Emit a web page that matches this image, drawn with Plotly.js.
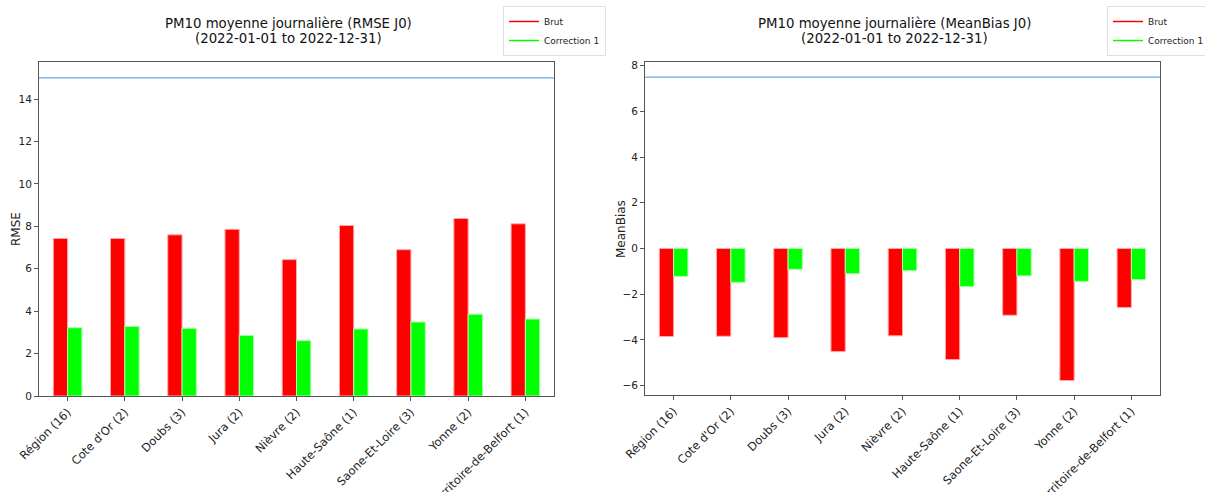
<!DOCTYPE html>
<html>
<head>
<meta charset="utf-8">
<script src="https://cdn.plot.ly/plotly-3.0.1.min.js"></script>
<style>html,body{margin:0;padding:0;background:#fff;}#chart{width:1205px;height:492px;}</style>
</head>
<body>
<div id="chart"></div>
<script>
const categories = ["Région (16)", "Cote d'Or (2)", "Doubs (3)", "Jura (2)", "Nièvre (2)", "Haute-Saône (1)", "Saone-Et-Loire (3)", "Yonne (2)", "Territoire-de-Belfort (1)"];
const rmseBrut = [7.43, 7.43, 7.60, 7.86, 6.43, 8.04, 6.90, 8.37, 8.12];
const rmseCorr = [3.22, 3.28, 3.19, 2.86, 2.61, 3.16, 3.49, 3.86, 3.63];
const biasBrut = [-3.85, -3.84, -3.90, -4.51, -3.82, -4.86, -2.92, -5.78, -2.58];
const biasCorr = [-1.22, -1.48, -0.91, -1.10, -0.97, -1.67, -1.20, -1.44, -1.36];
const rmseThreshold = 15;
const biasThreshold = 7.5;
const seriesNames = ["Brut", "Correction 1"];
const titleLine1 = ["PM10 moyenne journalière (RMSE J0)", "PM10 moyenne journalière (MeanBias J0)"];
const titleLine2 = ["(2022-01-01 to 2022-12-31)", "(2022-01-01 to 2022-12-31)"];
const yTitles = ["RMSE", "MeanBias"];

const RED = "#ff0000", GREEN = "#00ff00";
const FONT = "DejaVu Sans, sans-serif";

function bar(y, color, edge, xa, ya, name) {
  return {type: "bar", x: categories, y: y, xaxis: xa, yaxis: ya, name: name, showlegend: false,
    marker: {color: color, line: {color: edge, width: 1}}, hoverinfo: "skip"};
}
function legendLine(name, color, legend) {
  return {type: "scatter", mode: "lines", x: [null], y: [null], name: name, legend: legend,
    line: {color: color, width: 1.5}, xaxis: "x", yaxis: "y"};
}

const data = [
  bar(rmseBrut, RED, "rgba(255,170,170,1)", "x", "y", seriesNames[0]),
  bar(rmseCorr, GREEN, "rgba(170,255,170,1)", "x", "y", seriesNames[1]),
  bar(biasBrut, RED, "rgba(255,170,170,1)", "x2", "y2", seriesNames[0]),
  bar(biasCorr, GREEN, "rgba(170,255,170,1)", "x2", "y2", seriesNames[1]),
  legendLine(seriesNames[0], RED, "legend"),
  legendLine(seriesNames[1], GREEN, "legend"),
  legendLine(seriesNames[0], RED, "legend2"),
  legendLine(seriesNames[1], GREEN, "legend2")
];

const W = 1205, H = 492;
const px = v => v / W, py = v => 1 - v / H;

const xCommon = {
  type: "category", categoryorder: "array", categoryarray: categories, range: [-0.5, 8.5],
  showline: true, mirror: true, linecolor: "#555", linewidth: 1, automargin: false,
  ticks: "outside", ticklen: 4, tickcolor: "#555", tickangle: -45,
  tickfont: {family: FONT, size: 11.5, color: "#222"}, showgrid: false, zeroline: false, fixedrange: true
};
const yCommon = {
  showline: true, mirror: true, linecolor: "#555", linewidth: 1, automargin: false,
  ticks: "outside", ticklen: 4, tickcolor: "#555", dtick: 2,
  tickfont: {family: FONT, size: 10.5, color: "#222"}, showgrid: false, zeroline: false, fixedrange: true
};

const legendCommon = {
  bgcolor: "rgba(255,255,255,0.85)", bordercolor: "#e0e0e0", borderwidth: 1,
  font: {family: FONT, size: 9, color: "#222"}, xanchor: "left", yanchor: "top",
  tracegroupgap: 0, itemwidth: 30
};

const txt = (text, x, y, size, extra) => Object.assign({text: text, xref: "paper", yref: "paper", x: x, y: y,
  xanchor: "center", yanchor: "middle", showarrow: false, font: {family: FONT, size: size, color: "#111"}}, extra || {});

const layout = {
  width: W, height: H, margin: {l: 0, r: 0, t: 0, b: 0, autoexpand: false},
  paper_bgcolor: "#fff", plot_bgcolor: "#fff",
  barmode: "group", bargap: 0.5, bargroupgap: 0,
  xaxis: Object.assign({}, xCommon, {domain: [px(39), px(554)], anchor: "y"}),
  yaxis: Object.assign({}, yCommon, {domain: [py(396), py(62)], anchor: "x", range: [0, 15.75]}),
  xaxis2: Object.assign({}, xCommon, {domain: [px(645), px(1160)], anchor: "y2"}),
  yaxis2: Object.assign({}, yCommon, {domain: [py(395), py(62)], anchor: "x2", range: [-6.41, 8.16]}),
  legend: Object.assign({}, legendCommon, {x: px(503), y: py(6)}),
  legend2: Object.assign({}, legendCommon, {x: px(1107), y: py(6)}),
  shapes: [
    {type: "line", xref: "x domain", yref: "y", x0: 0, x1: 1, y0: rmseThreshold, y1: rmseThreshold,
      line: {color: "#6fa8dc", width: 1.3}},
    {type: "line", xref: "x2 domain", yref: "y2", x0: 0, x1: 1, y0: biasThreshold, y1: biasThreshold,
      line: {color: "#6fa8dc", width: 1.3}}
  ],
  annotations: [
    txt(titleLine1[0], px(288), py(23), 13.3),
    txt(titleLine2[0], px(288), py(39), 13.3),
    txt(titleLine1[1], px(894), py(23), 13.3),
    txt(titleLine2[1], px(894), py(39), 13.3),
    txt(yTitles[0], px(16), py(229), 12, {textangle: -90, font: {family: FONT, size: 12, color: "#222"}}),
    txt(yTitles[1], px(621), py(229), 12, {textangle: -90, font: {family: FONT, size: 12, color: "#222"}})
  ]
};

Plotly.newPlot("chart", data, layout, {displayModeBar: false, staticPlot: true});
</script>
</body>
</html>
